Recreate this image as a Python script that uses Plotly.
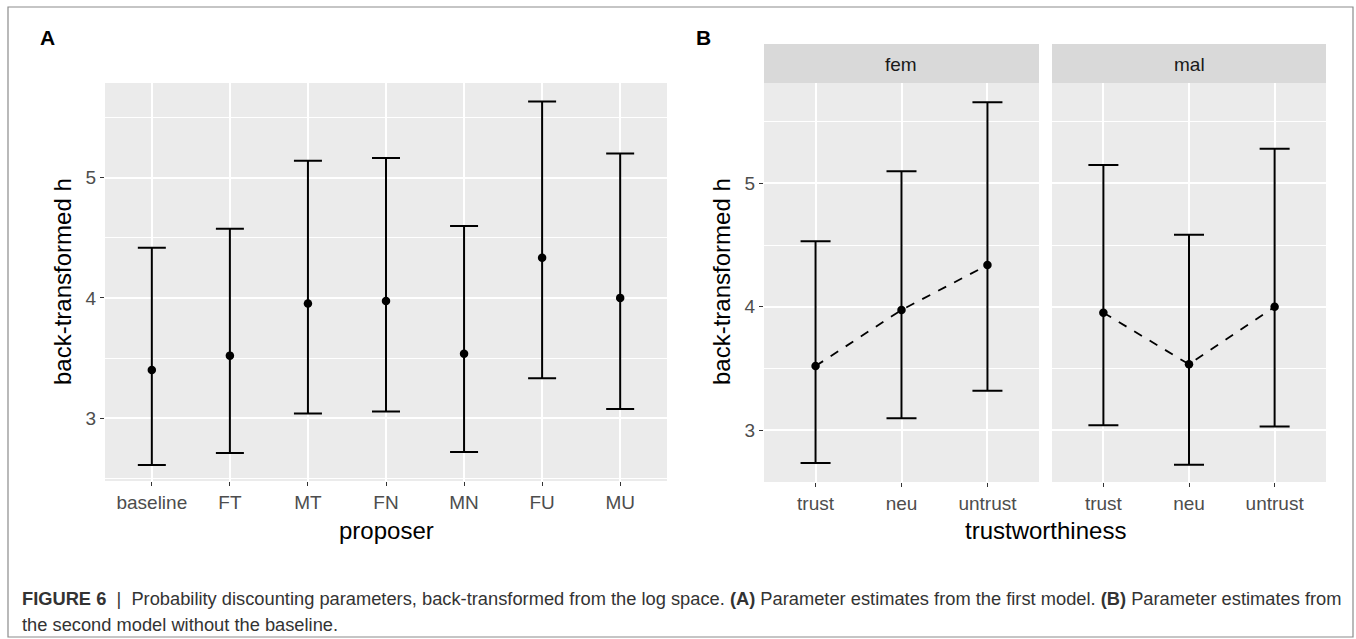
import plotly.graph_objects as go
import numpy as np

# ---------------- data ----------------
proposer = ["baseline", "FT", "MT", "FN", "MN", "FU", "MU"]
est_A = [3.40, 3.52, 3.953, 3.975, 3.536, 4.333, 4.00]
lo_A = [2.61, 2.71, 3.04, 3.055, 2.72, 3.333, 3.077]
hi_A = [4.417, 4.575, 5.14, 5.163, 4.597, 5.633, 5.20]

trust_levels = ["trust", "neu", "untrust"]
facets = ["fem", "mal"]
fem_est = [3.52, 3.974, 4.338]
fem_lo = [2.735, 3.097, 3.32]
fem_hi = [4.53, 5.097, 5.656]
mal_est = [3.952, 3.534, 4.00]
mal_lo = [3.04, 2.72, 3.03]
mal_hi = [5.148, 4.584, 5.28]

yticks = [3, 4, 5]

# ---------------- layout helpers ----------------
W, H = 1356, 639
def fx(px):
    return px / W
def fy(py):
    return 1 - py / H

FONT = "Liberation Sans, Arial, Helvetica, sans-serif"
TICKCOL = "#4d4d4d"
PANEL = "#ebebeb"
STRIP = "#d9d9d9"

fig = go.Figure()

def add_err(xcats, est, lo, hi, xa, ya, capw, line=False):
    est = np.array(est); lo = np.array(lo); hi = np.array(hi)
    fig.add_trace(go.Scatter(
        x=xcats, y=est, xaxis=xa, yaxis=ya,
        mode="markers",
        marker=dict(color="black", size=8.5),
        error_y=dict(type="data", symmetric=False, array=hi - est,
                     arrayminus=est - lo, color="black", thickness=2, width=capw),
        showlegend=False, hoverinfo="skip"))
    if line:
        fig.add_trace(go.Scatter(
            x=xcats, y=est, xaxis=xa, yaxis=ya, mode="lines",
            line=dict(color="black", width=1.8, dash="dash"),
            showlegend=False, hoverinfo="skip"))

add_err(proposer, est_A, lo_A, hi_A, "x", "y", 14)
add_err(trust_levels, fem_est, fem_lo, fem_hi, "x2", "y2", 15, line=True)
add_err(trust_levels, mal_est, mal_lo, mal_hi, "x3", "y3", 15, line=True)

def xax(domain, cats):
    return dict(domain=domain, type="category", categoryorder="array",
                categoryarray=cats, range=[-0.6, len(cats) - 0.4],
                showgrid=True, gridcolor="white", gridwidth=1.6,
                zeroline=False, showline=False,
                ticks="outside", ticklen=4, tickwidth=1.2, tickcolor="#333333",
                tickfont=dict(family=FONT, size=19, color=TICKCOL),
                fixedrange=True, automargin=False)

def yax(domain, rng, anchor, labels=True):
    return dict(domain=domain, range=rng, anchor=anchor,
                tickvals=yticks, ticktext=[str(v) for v in yticks],
                showticklabels=labels,
                showgrid=True, gridcolor="white", gridwidth=1.6,
                minor=dict(tickvals=[2.5, 3.5, 4.5, 5.5], showgrid=True,
                           gridcolor="white", gridwidth=0.8, ticks=""),
                zeroline=False, showline=False,
                ticks="outside" if labels else "", ticklen=4, tickwidth=1.2,
                tickcolor="#333333",
                tickfont=dict(family=FONT, size=19, color=TICKCOL),
                fixedrange=True, automargin=False)

yA = [fy(481), fy(83)]
yB = [fy(482), fy(83)]

fig.update_layout(
    width=W, height=H,
    margin=dict(l=0, r=0, t=0, b=0),
    paper_bgcolor="white", plot_bgcolor=PANEL,
    font=dict(family=FONT),
    xaxis=dict(xax([fx(105), fx(667)], proposer), anchor="y"),
    yaxis=yax(yA, [2.478, 5.786], "x"),
    xaxis2=dict(xax([fx(764), fx(1039)], trust_levels), anchor="y2"),
    yaxis2=yax(yB, [2.581, 5.812], "x2"),
    xaxis3=dict(xax([fx(1052), fx(1326)], trust_levels), anchor="y3"),
    yaxis3=yax(yB, [2.581, 5.812], "x3", labels=False),
)

shapes = []
# outer border
shapes.append(dict(type="rect", xref="paper", yref="paper",
                   x0=fx(8), x1=fx(1353), y0=fy(637), y1=fy(7),
                   line=dict(color="#8c8c8c", width=1.2), fillcolor="rgba(0,0,0,0)",
                   layer="below"))
# facet strips
for (x0, x1) in [(764, 1039), (1052, 1326)]:
    shapes.append(dict(type="rect", xref="paper", yref="paper",
                       x0=fx(x0), x1=fx(x1), y0=fy(83), y1=fy(44),
                       line=dict(width=0), fillcolor=STRIP, layer="below"))
fig.update_layout(shapes=shapes)

ann = []
for name, (x0, x1) in zip(facets, [(764, 1039), (1052, 1326)]):
    ann.append(dict(text=name, x=fx((x0 + x1) / 2), y=fy(64), xref="paper", yref="paper",
                    showarrow=False, xanchor="center", yanchor="middle",
                    font=dict(family=FONT, size=19, color="#1a1a1a")))
# panel labels
ann.append(dict(text="<b>A</b>", x=fx(38), y=fy(38), xref="paper", yref="paper",
                showarrow=False, xanchor="left", yanchor="middle",
                font=dict(family=FONT, size=21, color="black")))
ann.append(dict(text="<b>B</b>", x=fx(694), y=fy(38), xref="paper", yref="paper",
                showarrow=False, xanchor="left", yanchor="middle",
                font=dict(family=FONT, size=21, color="black")))
# axis titles
ann.append(dict(text="proposer", x=fx(386), y=fy(530), xref="paper", yref="paper",
                showarrow=False, xanchor="center", yanchor="middle",
                font=dict(family=FONT, size=24, color="black")))
ann.append(dict(text="trustworthiness", x=fx(1045), y=fy(530), xref="paper", yref="paper",
                showarrow=False, xanchor="center", yanchor="middle",
                font=dict(family=FONT, size=24, color="black")))
for xc, yc in [(63, 282), (722, 282)]:
    ann.append(dict(text="back-transformed h", x=fx(xc), y=fy(yc), xref="paper", yref="paper",
                    showarrow=False, xanchor="center", yanchor="middle", textangle=-90,
                    font=dict(family=FONT, size=24, color="black")))
# caption
CAPFONT = "Liberation Sans, Arial, sans-serif"
ann.append(dict(text="<b>FIGURE 6</b>  |  Probability discounting parameters, back-transformed from the log space. "
                     "<b>(A)</b> Parameter estimates from the first model. <b>(B)</b> Parameter estimates from",
                x=fx(20), y=fy(598), xref="paper", yref="paper",
                showarrow=False, xanchor="left", yanchor="middle",
                font=dict(family=CAPFONT, size=18.3, color="#333333")))
ann.append(dict(text="the second model without the baseline.",
                x=fx(20), y=fy(624), xref="paper", yref="paper",
                showarrow=False, xanchor="left", yanchor="middle",
                font=dict(family=CAPFONT, size=18.3, color="#333333")))
fig.update_layout(annotations=ann)

fig.write_html("out.html")
